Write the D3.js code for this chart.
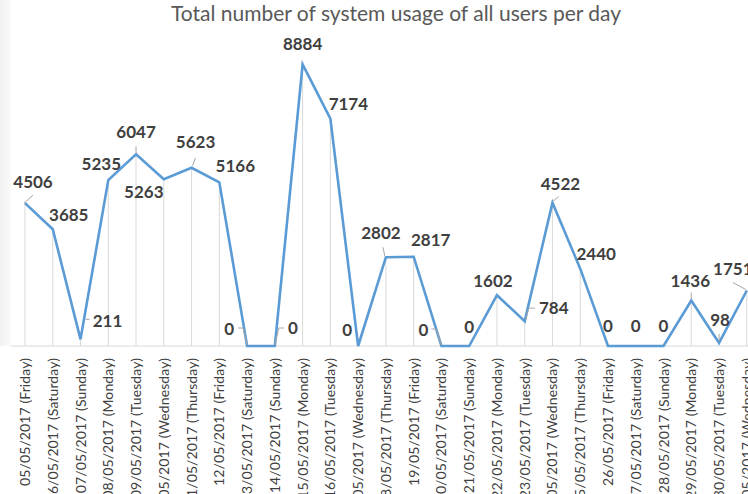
<!DOCTYPE html>
<html>
<head>
<meta charset="utf-8">
<script src="https://cdn.jsdelivr.net/npm/d3@7"></script>
<style>
  html, body { margin: 0; padding: 0; background: #fff; overflow: hidden; }
  svg { display: block; }
</style>
</head>
<body>
<svg id="chart" width="748" height="494"></svg>
<script>
const titleText = "Total number of system usage of all users per day";
const categories = [
  "05/05/2017 (Friday)", "06/05/2017 (Saturday)", "07/05/2017 (Sunday)",
  "08/05/2017 (Monday)", "09/05/2017 (Tuesday)", "10/05/2017 (Wednesday)",
  "11/05/2017 (Thursday)", "12/05/2017 (Friday)", "13/05/2017 (Saturday)",
  "14/05/2017 (Sunday)", "15/05/2017 (Monday)", "16/05/2017 (Tuesday)",
  "17/05/2017 (Wednesday)", "18/05/2017 (Thursday)", "19/05/2017 (Friday)",
  "20/05/2017 (Saturday)", "21/05/2017 (Sunday)", "22/05/2017 (Monday)",
  "23/05/2017 (Tuesday)", "24/05/2017 (Wednesday)", "25/05/2017 (Thursday)",
  "26/05/2017 (Friday)", "27/05/2017 (Saturday)", "28/05/2017 (Sunday)",
  "29/05/2017 (Monday)", "30/05/2017  (Tuesday)", "31/05/2017 (Wednesday)"
];
const usage = [4506, 3685, 211, 5235, 6047, 5263, 5623, 5166, 0, 0, 8884, 7174, 0,
  2802, 2817, 0, 0, 1602, 784, 4522, 2440, 0, 0, 0, 1436, 98, 1751];
const yDomain = [0, 10000];

// label placement (style only): offset of label centre/baseline from its point
const labelOffsets = [
  [8,-15],[16,-8],[27,-12],[-7,-10],[0,-16],[-20,19],[4,-20],[16,-10],
  [-18,-11],[18,-12],[0,-14],[18,-9],[-11,-10],[-5,-18],[17,-11],[-18,-10],
  [0,-13],[-4,-8],[29,-7],[8,-13],[16,-9],[0,-14],[0,-14],[0,-14],
  [-1,-13],[1,-17],[-14,-15]
];
// leader lines (style only), relative polylines from the point, null = none
const leaders = [
  [[-1,0],[8,-8]], null, [[5,-20],[9,-20]], null, [[0,-8],[0,-1]], null,
  [[1,-2],[4,-10]], null, [[-9,-18],[-4,-18],[0,-1]], [[0,-1],[4,-18],[9,-18]],
  null, null, null, [[-3,-10],[-1,-1]], null, [[-10,-17],[-5,-17],[0,-1]],
  null, null, [[1,-1],[4,-13],[10,-13]], [[0,-1],[6,-6]], null, null, null, null,
  [[0,-8],[0,-1]], [[0,-9],[0,-2]], [[-14,-8],[-1,-1]]
];

const svg = d3.select("#chart");
const W = 748, H = 494;
const baseY = 346, topY = 29;

const x = d3.scalePoint().domain(categories).range([25, 746.8]);
const y = d3.scaleLinear().domain(yDomain).range([baseY, topY]);

// subtle plot backdrop
const defs = svg.append("defs");
const grad = defs.append("linearGradient").attr("id", "bg").attr("x1", 0).attr("x2", 1).attr("y1", 0).attr("y2", 0);
grad.append("stop").attr("offset", "0%").attr("stop-color", "#f1f1f1");
grad.append("stop").attr("offset", "100%").attr("stop-color", "#fafafa");
svg.append("rect").attr("x", 0).attr("y", 0).attr("width", 11).attr("height", baseY)
  .attr("fill", "url(#bg)");

// title
svg.append("text")
  .attr("x", 396).attr("y", 21)
  .attr("text-anchor", "middle")
  .attr("font-family", "Lato, 'Open Sans', sans-serif")
  .attr("font-size", 21)
  .attr("fill", "#595959")
  .text(titleText);

// drop lines
svg.append("g").selectAll("line").data(usage).join("line")
  .attr("x1", (d, i) => x(categories[i])).attr("x2", (d, i) => x(categories[i]))
  .attr("y1", d => y(d)).attr("y2", baseY)
  .attr("stroke", "#d9d9d9").attr("stroke-width", 1);

// baseline axis
const axis = d3.axisBottom(x).tickSize(0).tickFormat("");
svg.append("g").attr("transform", `translate(0,${baseY})`).call(axis)
  .call(g => g.select(".domain").attr("d", `M11,0H${W}`).attr("stroke", "#d9d9d9").attr("stroke-width", 1.2));

// x labels
svg.append("g").selectAll("text").data(categories).join("text")
  .attr("transform", d => `translate(${x(d) + 5},358) rotate(-90)`)
  .attr("text-anchor", "end")
  .attr("font-family", "Lato, 'Open Sans', sans-serif")
  .attr("font-size", 14)
  .attr("letter-spacing", 0.1)
  .attr("fill", "#404040")
  .text(d => d);

// line
const line = d3.line().x((d, i) => x(categories[i])).y(d => y(d));
svg.append("path").datum(usage)
  .attr("d", line)
  .attr("fill", "none")
  .attr("stroke", "#5b9bd5")
  .attr("stroke-width", 2.6)
  .attr("stroke-linejoin", "miter");

// leaders
const lg = svg.append("g");
usage.forEach((v, i) => {
  const pts = leaders[i];
  if (!pts) return;
  const px = x(categories[i]), py = y(v);
  lg.append("polyline")
    .attr("points", pts.map(p => `${px + p[0]},${py + p[1]}`).join(" "))
    .attr("fill", "none").attr("stroke", "#a6a6a6").attr("stroke-width", 1);
});

// data labels
svg.append("g").selectAll("text").data(usage).join("text")
  .attr("x", (d, i) => x(categories[i]) + labelOffsets[i][0])
  .attr("y", (d, i) => y(d) + labelOffsets[i][1])
  .attr("text-anchor", "middle")
  .attr("font-family", "Lato, 'Open Sans', sans-serif")
  .attr("font-weight", "bold")
  .attr("font-size", 17)
  .attr("fill", "#404040")
  .text(d => d);
</script>
</body>
</html>
